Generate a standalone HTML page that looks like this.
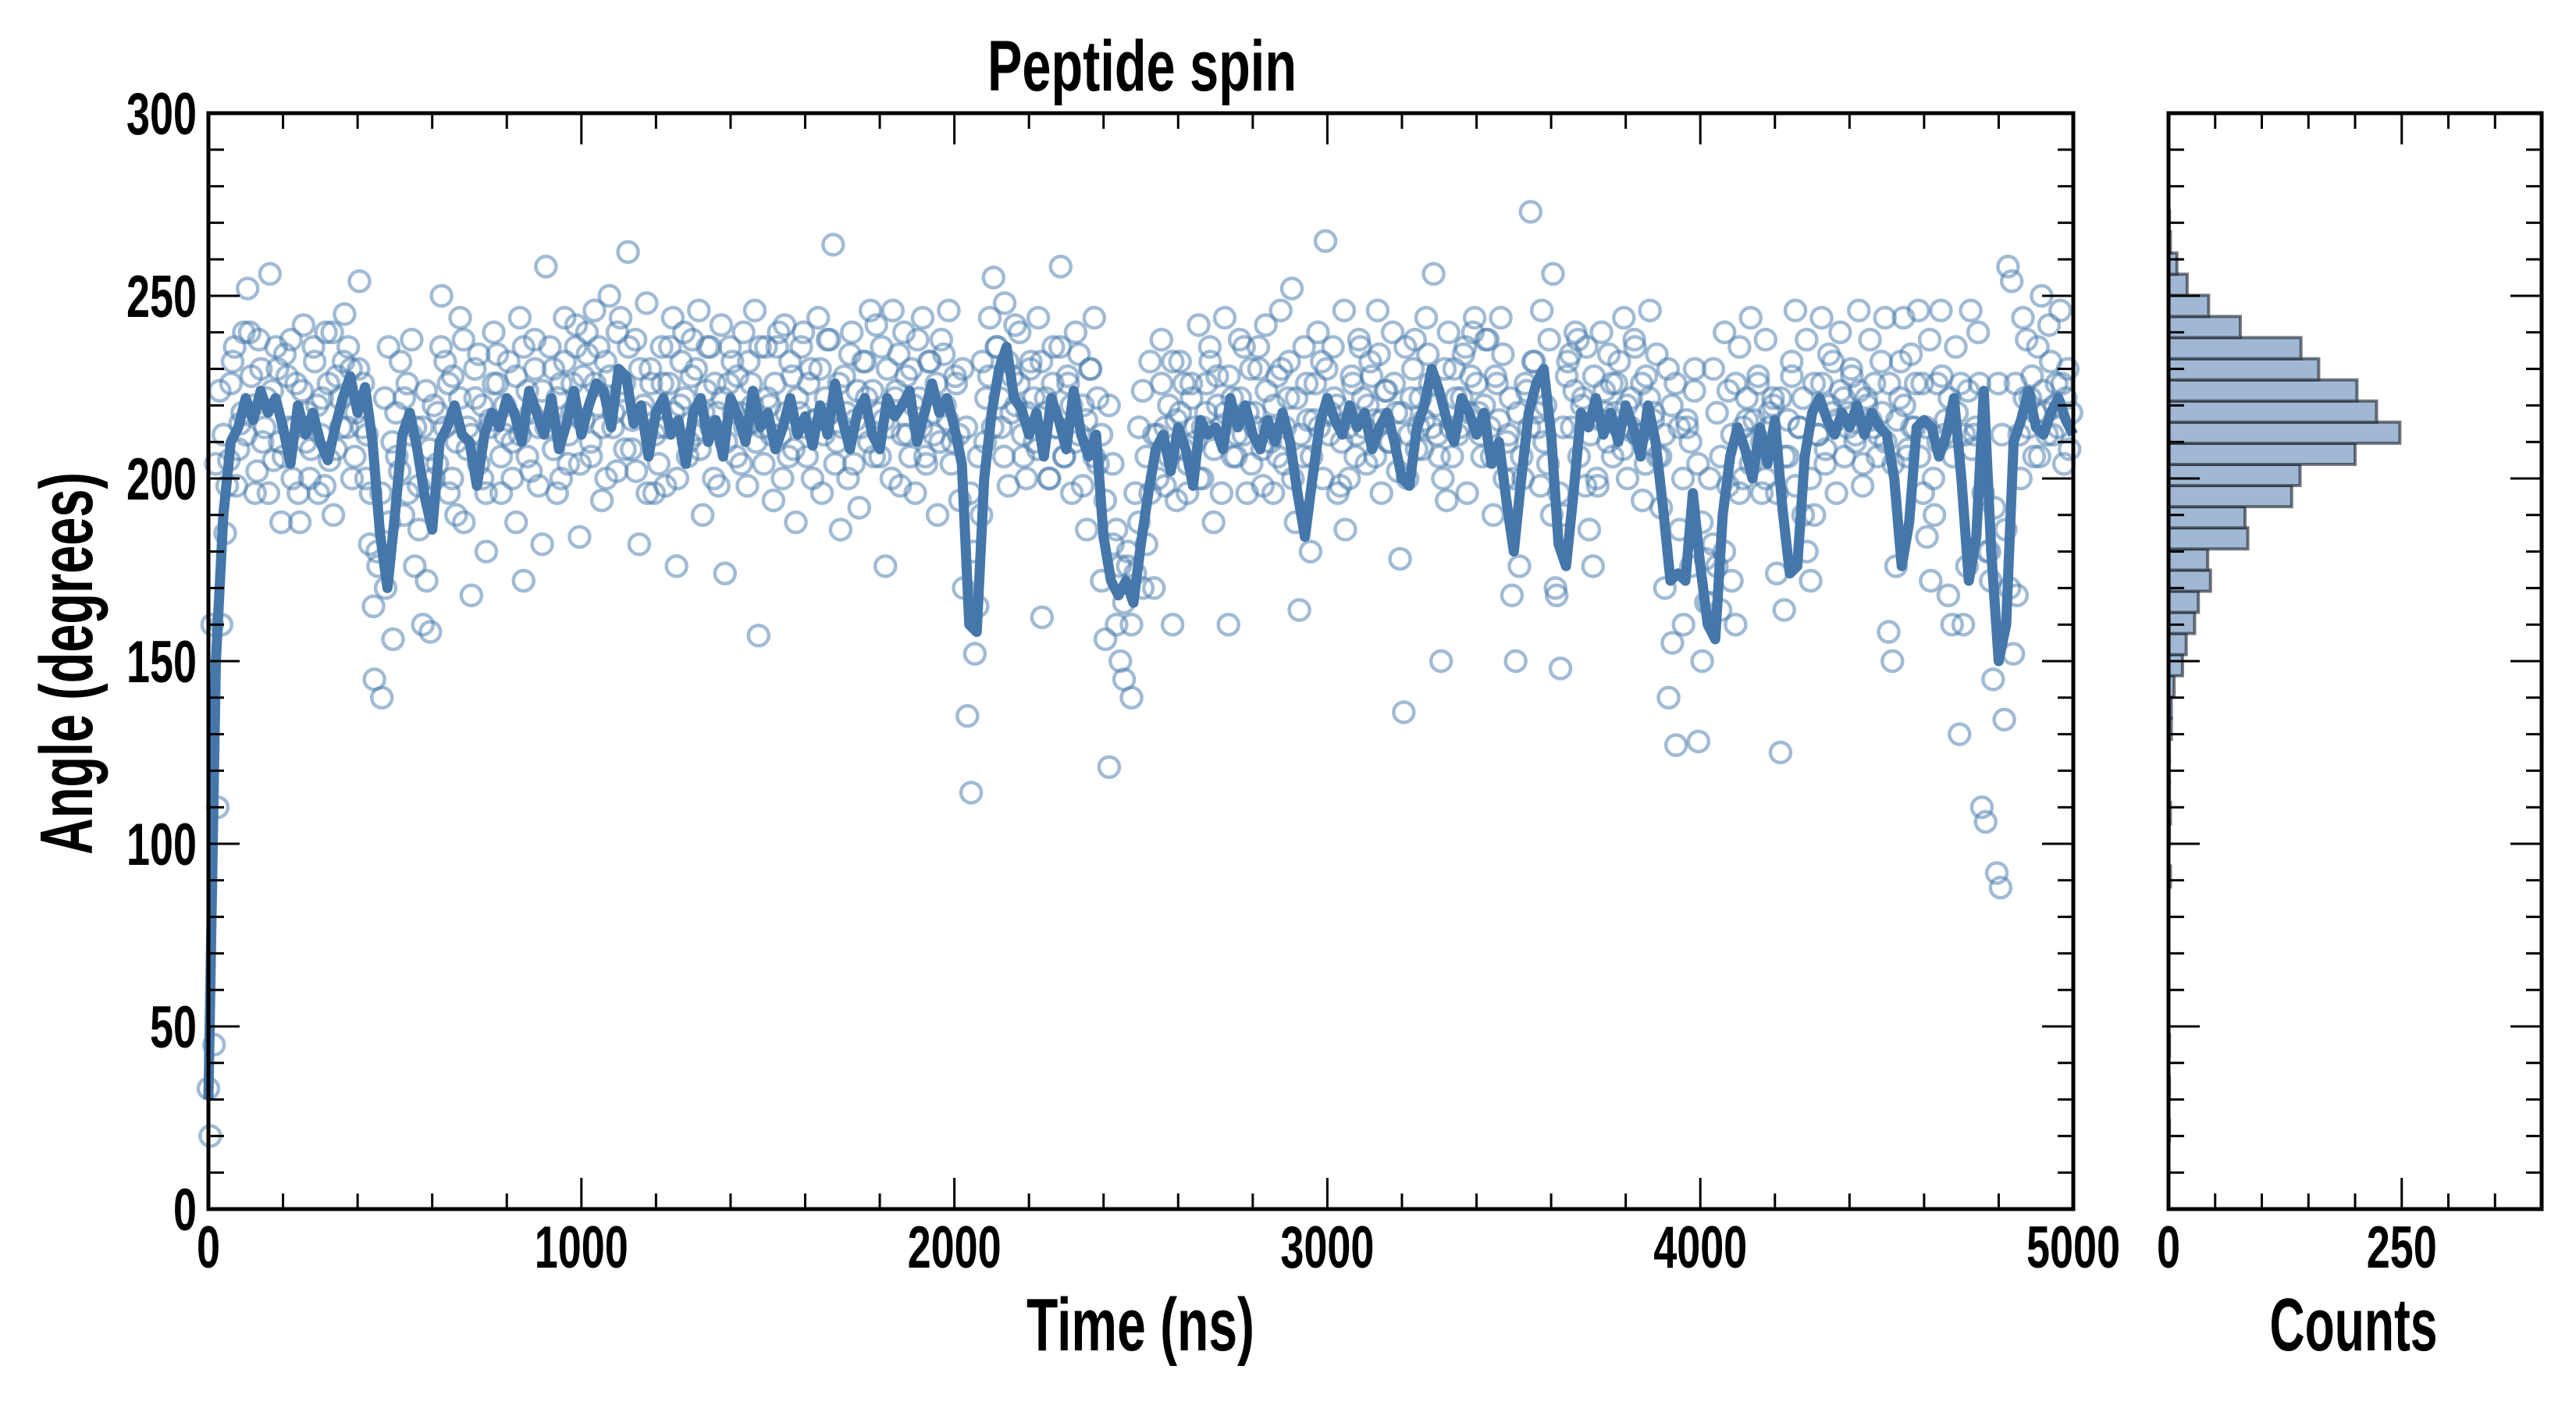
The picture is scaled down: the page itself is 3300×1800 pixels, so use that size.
<!DOCTYPE html>
<html><head><meta charset="utf-8">
<style>
html,body{margin:0;padding:0;background:#fff;}
svg{display:block;}
text{font-family:"Liberation Sans Narrow","Liberation Sans","DejaVu Sans Condensed",sans-serif;font-weight:bold;fill:#000;}
</style></head>
<body>
<svg id="chart" width="3300" height="1800" viewBox="0 0 3300 1800" xmlns="http://www.w3.org/2000/svg">
  <rect x="0" y="0" width="3300" height="1800" fill="#fff"/>
  <text x="1463" y="116" font-size="92" text-anchor="middle" textLength="396" lengthAdjust="spacingAndGlyphs">Peptide spin</text>
  <g id="mainPlot"></g>
  <g id="histPlot"></g>
  <text x="1461" y="1730" font-size="96" text-anchor="middle" textLength="292" lengthAdjust="spacingAndGlyphs">Time (ns)</text>
  <text x="3015" y="1730" font-size="96" text-anchor="middle" textLength="215" lengthAdjust="spacingAndGlyphs">Counts</text>
  <text x="0" y="0" font-size="96" text-anchor="middle" textLength="490" lengthAdjust="spacingAndGlyphs" transform="translate(118,850) rotate(-90)">Angle (degrees)</text>
</svg>
<script>
const lineValues=[30,150,190,210,214,222,216,224,218,222,214,204,220,212,218,210,205,214,222,228,218,225,210,185,170,190,212,218,208,195,186,210,214,220,212,210,198,212,218,214,222,218,210,224,218,212,222,208,215,224,212,220,226,224,214,230,228,215,220,206,218,222,212,216,204,218,222,210,216,206,222,217,210,224,214,218,208,214,222,212,217,209,220,212,226,216,208,218,222,212,208,222,217,220,224,210,218,226,218,222,214,204,160,158,200,218,230,236,222,219,212,218,206,222,216,208,224,212,206,212,184,172,168,172,166,182,196,208,212,202,214,208,198,216,212,214,208,222,214,220,212,208,216,210,218,210,196,184,200,215,222,216,212,220,214,218,208,214,218,210,200,198,214,220,230,224,216,210,222,218,212,218,204,210,194,180,200,218,226,230,212,182,176,196,218,214,222,212,218,210,220,214,206,220,210,192,172,174,172,196,176,160,156,190,206,214,208,200,214,204,216,192,174,176,206,218,222,216,212,218,214,220,212,218,214,212,200,176,188,214,216,214,206,212,222,200,172,184,224,180,150,160,210,216,224,214,212,218,222,216,212];
const scatterValues=[20,45,110,160,185,205,232,198,215,240,252,228,196,238,210,222,256,205,230,188,234,214,200,226,188,242,218,208,232,196,222,240,205,190,228,214,245,236,200,218,254,226,212,196,145,176,140,170,188,156,206,232,222,196,238,214,186,160,172,158,200,218,250,232,196,228,210,244,188,214,168,222,234,200,180,216,240,226,196,212,232,210,188,244,172,224,202,238,214,182,258,216,230,196,226,244,204,218,236,184,228,240,210,246,220,194,232,250,214,202,244,226,262,208,238,182,218,248,230,196,214,236,198,226,244,176,220,240,206,228,212,246,190,224,236,200,218,242,174,226,232,206,218,240,198,226,246,157,214,236,220,194,236,212,242,206,228,188,218,240,206,230,216,244,196,222,238,264,210,186,228,200,240,216,192,232,222,246,206,218,236,176,214,246,224,198,240,212,230,196,222,244,204,232,212,190,238,220,246,210,226,194,170,135,114,152,206,232,222,244,255,236,214,248,198,228,220,240,206,218,232,210,244,162,222,200,236,214,258,206,226,196,240,212,220,186,230,244,204,172,156,121,182,160,150,145,176,140,196,214,224,206,232,170,212,238,198,220,160,216,232,208,196,226,214,242,200,218,236,188,228,214,244,160,222,206,238,212,196,230,218,236,208,242,214,196,228,246,204,222,252,188,164,206,226,180,216,240,232,265,212,236,220,198,246,214,228,206,238,222,204,232,216,246,196,224,210,240,218,178,136,200,222,238,214,208,244,226,256,212,150,230,240,206,222,214,234,196,228,244,218,206,238,214,190,226,244,200,212,168,150,176,200,224,273,232,214,246,220,238,256,168,148,190,232,214,240,206,222,236,212,228,198,240,218,234,206,226,214,244,200,222,236,212,194,228,246,218,206,192,170,140,155,127,186,160,214,176,230,128,150,166,200,230,218,206,240,224,212,226,236,200,216,244,210,228,196,238,218,222,174,125,164,206,232,246,214,222,238,200,226,212,244,204,234,218,196,240,222,214,230,210,246,198,222,238,214,206,232,244,158,150,176,222,244,206,234,214,246,226,214,238,200,226,246,212,168,160,236,130,160,176,246,212,240,110,106,180,145,92,88,134,258,254,226,212,244,238,222,206,236,250,218,242,212,226,246,204,230,218];
const scatterValuesB=[33,160,204,224,212,198,226,236,208,218,212,240,220,202,230,214,196,224,236,210,206,228,238,214,196,224,210,200,236,220,212,198,226,240,208,222,232,214,230,206,230,214,200,182,165,180,196,222,236,210,218,202,190,226,212,176,198,214,224,208,220,204,236,214,226,200,190,222,238,208,212,230,204,220,196,214,226,234,206,220,216,200,228,212,236,206,218,230,198,224,214,236,208,222,200,232,212,226,242,204,216,234,206,226,236,214,200,228,218,240,224,208,236,216,202,230,220,196,226,212,204,226,214,236,218,200,232,222,210,238,230,208,218,236,214,226,198,222,210,236,218,228,204,214,232,220,210,236,204,222,212,226,240,200,218,232,208,222,236,214,226,200,216,230,212,238,218,204,226,214,218,234,204,224,214,232,210,224,242,206,216,230,200,222,234,212,228,206,220,238,214,206,232,218,226,210,234,216,204,228,212,230,214,196,180,165,190,210,228,214,236,222,206,232,218,242,226,212,200,230,222,208,232,218,200,226,214,236,206,228,220,210,234,198,216,230,206,222,212,194,220,204,186,176,166,180,160,174,188,170,182,196,212,200,226,214,206,232,194,218,226,204,222,210,200,214,226,232,208,220,196,218,228,206,212,222,236,218,204,214,230,198,224,210,220,206,230,214,232,200,222,212,236,216,206,226,214,200,230,218,222,196,210,186,200,226,212,236,214,220,228,206,234,216,224,210,226,202,218,236,212,230,208,222,216,234,214,220,206,200,194,214,230,212,222,236,218,240,226,212,220,238,206,228,216,234,210,222,200,218,206,226,214,232,218,198,210,204,190,170,196,214,228,234,224,238,220,198,186,176,200,216,224,210,226,218,232,208,220,214,238,212,226,204,222,216,234,206,212,230,220,226,214,200,216,210,224,204,188,178,166,182,176,164,180,198,172,160,196,214,222,204,216,226,210,200,214,220,196,222,206,216,228,198,214,190,180,172,190,212,226,208,220,232,216,224,206,218,228,212,224,204,220,216,226,212,218,210,226,204,216,232,220,208,214,226,206,196,184,172,190,210,228,216,222,206,218,226,212,224,208,214,226,196,180,172,192,226,212,186,170,152,168,200,222,214,228,218,206,224,212,232,220,214,226,222,208];
const histCounts=[1,0,1,0,1,0,0,0,0,0,0,0,2,0,1,2,1,1,1,3,3,6,15,19,28,32,45,42,85,82,132,141,200,248,223,202,161,142,77,43,20,9,2,1];
const histBinStart=18.7;
const histBinWidth=5.786;
const xTickValues=[0,1000,2000,3000,4000,5000];
const yTickValues=[0,50,100,150,200,250,300];
const histTickValues=[0,250];

const NS='http://www.w3.org/2000/svg';
const L=267,R=2656,T=145,B=1549,HL=2778,HR=3256;
const xMax=5000,yMax=300,cMax=400;
const xs=v=>L+v/xMax*(R-L);
const ys=v=>B-v/yMax*(B-T);
const cs=v=>HL+v/cMax*(HR-HL);
function mk(tag,parent){const e=document.createElementNS(NS,tag);parent.appendChild(e);return e;}
const main=document.getElementById('mainPlot');
const hist=document.getElementById('histPlot');

// scatter
const sg=mk('g',main);


function drawScatter(arr,offset){
  const step=xMax/arr.length;
  arr.forEach((v,i)=>{
    const c=mk('circle',sg);
    
    
    c.setAttribute('cx',xs(step*(i+offset)));c.setAttribute('cy',ys(v));c.setAttribute('r',13);
    c.setAttribute('fill','none');c.setAttribute('stroke','#4477aa');c.setAttribute('stroke-opacity','0.5');c.setAttribute('stroke-width','4.5');
  });
}
drawScatter(scatterValues,0.5);
drawScatter(scatterValuesB,0.0);
// line
const lp=mk('polyline',main);


lp.setAttribute('points',lineValues.map((v,i)=>xs(i*xMax/(lineValues.length-1))+','+ys(v)).join(' '));
lp.setAttribute('fill','none');lp.setAttribute('stroke','#4577aa');lp.setAttribute('stroke-width','13');lp.setAttribute('stroke-linejoin','round');

// histogram bars
histCounts.forEach((c,k)=>{
  if(c<=0)return;
  const lo=histBinStart+k*histBinWidth, hi=lo+histBinWidth;
  const r=mk('rect',hist);
  
  
  r.setAttribute('x',HL);r.setAttribute('y',ys(hi));r.setAttribute('width',cs(c)-HL);r.setAttribute('height',ys(lo)-ys(hi));
  r.setAttribute('fill','#a0b8d3');r.setAttribute('stroke','#1a1f2a');r.setAttribute('stroke-opacity','0.6');r.setAttribute('stroke-width','4');
});

function line(p,x1,y1,x2,y2,w,name){const l=mk('line',p);
  
  
  l.setAttribute('x1',x1);l.setAttribute('y1',y1);l.setAttribute('x2',x2);l.setAttribute('y2',y2);l.setAttribute('stroke','#000');l.setAttribute('stroke-width',w);}
function frame(p,x0,x1,name){const r=mk('rect',p);
  
  
  r.setAttribute('x',x0);r.setAttribute('y',T);r.setAttribute('width',x1-x0);r.setAttribute('height',B-T);r.setAttribute('fill','none');r.setAttribute('stroke','#000');r.setAttribute('stroke-width','5');}
function label(p,x,y,s,anchor,name){const t=mk('text',p);
  
  
  t.setAttribute('x',x);t.setAttribute('y',y);t.setAttribute('font-size','76');t.setAttribute('text-anchor',anchor);
  t.setAttribute('textLength',s.length*30);t.setAttribute('lengthAdjust','spacingAndGlyphs');
  t.textContent=s;}

// main ticks
for(let v=0;v<=xMax;v+=200){const x=xs(v),maj=v%1000===0,len=maj?40:20;
  line(main,x,B,x,B-len,3,'x-tick');line(main,x,T,x,T+len,3,'x-tick-top');}
for(let v=0;v<=yMax;v+=10){const y=ys(v),maj=v%50===0,len=maj?40:20;
  line(main,L,y,L+len,y,3,'y-tick');line(main,R,y,R-len,y,3,'y-tick-right');
  line(hist,HL,y,HL+len,y,3,'hist-y-tick');line(hist,HR,y,HR-len,y,3,'hist-y-tick-right');}
for(let v=0;v<=cMax;v+=50){const x=cs(v),maj=v%250===0,len=maj?40:20;
  line(hist,x,B,x,B-len,3,'hist-x-tick');line(hist,x,T,x,T+len,3,'hist-x-tick-top');}
frame(main,L,R,'main-plot-frame');
frame(hist,HL,HR,'histogram-frame');
xTickValues.forEach(v=>label(main,xs(v),1624,String(v),'middle','x-tick-label'));
yTickValues.forEach(v=>label(main,252,ys(v)+27,String(v),'end','y-tick-label'));
histTickValues.forEach(v=>label(hist,cs(v),1624,String(v),'middle','hist-x-tick-label'));
</script>
</body></html>
